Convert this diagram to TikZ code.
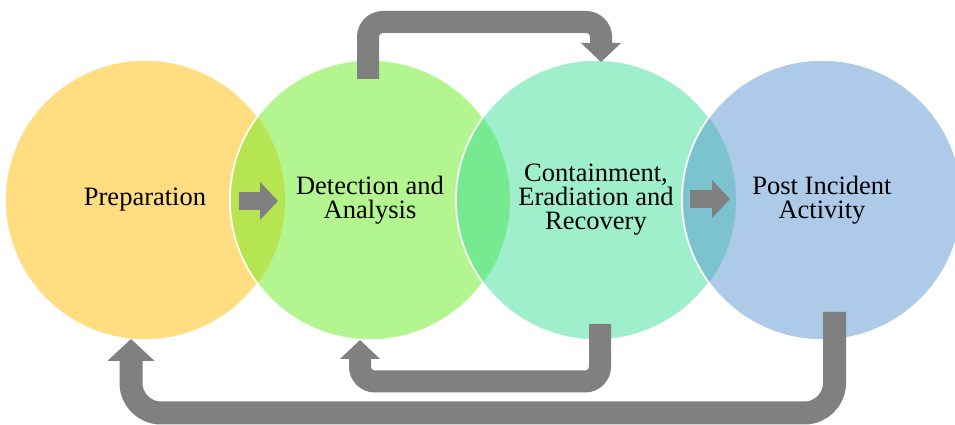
\documentclass[tikz,border=0pt]{standalone}
\usepackage{fontspec}
\setmainfont{Liberation Serif}
\usepackage{tikz}
\usetikzlibrary{positioning, calc, arrows.meta}
\definecolor{prepcol}{HTML}{FFDD80}
\definecolor{detcol}{HTML}{B3F58F}
\definecolor{contcol}{HTML}{9FEFCD}
\definecolor{postcol}{HTML}{ADCAE8}
\definecolor{lensone}{HTML}{B5E550}
\definecolor{lenstwo}{HTML}{77E991}
\definecolor{lensthree}{HTML}{7CC2CF}
\definecolor{flowgray}{HTML}{808080}
\tikzset{
  phase/.style={circle, minimum size=280pt, inner sep=0pt, align=center,
    draw=white, line width=1.5pt, font=\fontsize{26.5}{24}\selectfont},
  nextarrow/.style={draw=flowgray, line width=18pt, -{Triangle[width=37pt,length=18pt]}},
  flow/.style={draw=flowgray, line width=22pt, rounded corners=15pt,
    -{Triangle[width=39pt,length=19pt]}}
}

\begin{document}
\begin{tikzpicture}[x=1pt, y=1pt]
    \useasboundingbox (0,0) rectangle (955,425);

    \node[phase, fill=prepcol] (prep) at (145,225) {Preparation};
    \node[phase, fill=detcol] (det) at (370,225) {Detection and\\Analysis};
    \begin{scope}
      \clip (prep.center) circle[radius=140pt];
      \fill[lensone] (det.center) circle[radius=140pt];
      \draw[white, line width=1.5pt] (det.center) circle[radius=140pt];
    \end{scope}

    \node[phase, fill=contcol] (cont) at (596,225) {Containment,\\Eradiation and\\Recovery};
    \begin{scope}
      \clip (det.center) circle[radius=140pt];
      \fill[lenstwo] (cont.center) circle[radius=140pt];
      \draw[white, line width=1.5pt] (cont.center) circle[radius=140pt];
    \end{scope}

    \node[phase, fill=postcol] (post) at (822,225) {Post Incident\\Activity};
    \begin{scope}
      \clip (cont.center) circle[radius=140pt];
      \fill[lensthree] (post.center) circle[radius=140pt];
      \draw[white, line width=1.5pt] (post.center) circle[radius=140pt];
    \end{scope}

    % arrow ends
    \coordinate (prepright) at (239,224);
    \coordinate (detleft) at (278,224);
    \coordinate (contright) at (690,226);
    \coordinate (postleft) at (730,226);
    \coordinate (dettop) at (368,346);
    \coordinate (conttop) at (601,363);
    \coordinate (contbottom) at (600,101);
    \coordinate (detbottom) at (360,85);
    \coordinate (postbottom) at (834.5,113);
    \coordinate (prepbottom) at (131,86);

    \draw[nextarrow] (prepright) -- (detleft);
    \draw[nextarrow] (contright) -- (postleft);
    \draw[flow] (dettop) -- ++(0,57) -| (conttop);
    \draw[flow] (contbottom) -- ++(0,-57.5) -| (detbottom);
    \draw[flow, line width=23pt, rounded corners=30pt,
      -{Triangle[width=46pt,length=22pt]}] (postbottom) -- ++(0,-101) -| (prepbottom);
\end{tikzpicture}
\end{document}
